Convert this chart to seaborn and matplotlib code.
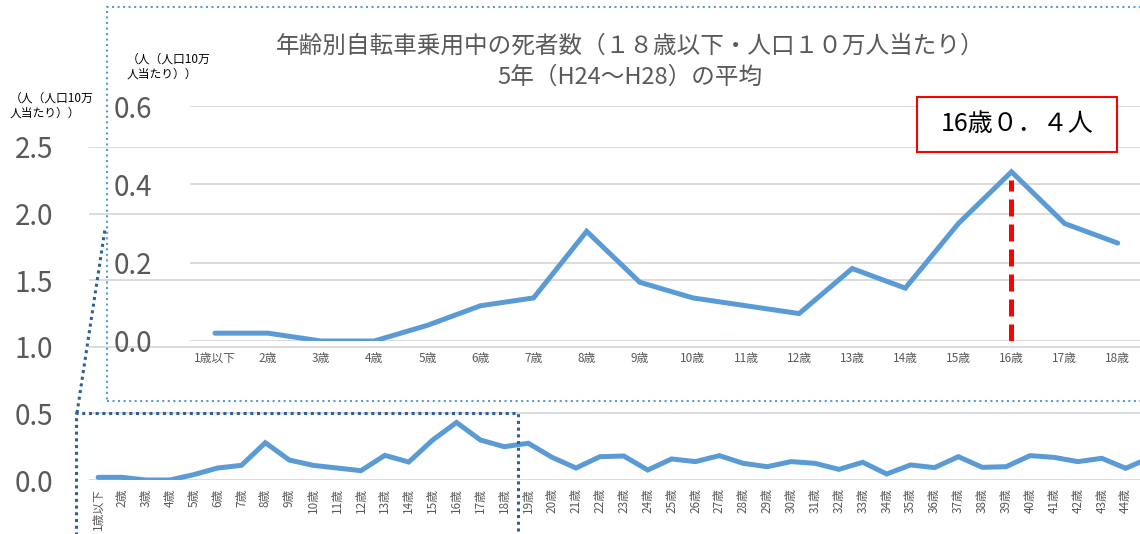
import numpy as np
import pandas as pd
import seaborn as sns
import matplotlib.pyplot as plt
from matplotlib.patches import Rectangle
from matplotlib.lines import Line2D

# data: deaths per 100k population while cycling, 5-year average (H24-H28)
ages = ["1歳以下"] + [f"{i}歳" for i in range(2, 46)]
rate_all = [0.02, 0.02, 0.0, 0.0, 0.04, 0.09, 0.11, 0.28, 0.15, 0.11,
            0.09, 0.07, 0.185, 0.135, 0.30, 0.432, 0.30, 0.25, 0.276, 0.17,
            0.09, 0.175, 0.18, 0.075, 0.158, 0.138, 0.183, 0.125, 0.10, 0.138,
            0.125, 0.08, 0.133, 0.045, 0.113, 0.093, 0.175, 0.095, 0.10, 0.183,
            0.17, 0.138, 0.163, 0.088, 0.165]
n_inset = 18
n_shown = 44  # last category is cut off at the right edge
ytick_bg = [0.0, 0.5, 1.0, 1.5, 2.0, 2.5]
ytick_in = [0.0, 0.2, 0.4, 0.6]
title = "年齢別自転車乗用中の死者数（１８歳以下・人口１０万人当たり）\n5年（H24～H28）の平均"
unit_label = "（人（人口10万\n人当たり））"
callout = "16歳０．４人"

sns.set_style("white")
plt.rcParams['font.family'] = ['Noto Sans CJK JP', 'DejaVu Sans']

BLUE = "#5B9BD5"
GRID = "#D9D9D9"
TXT = "#595959"
DARK = "#2F5F98"
W, H = 1140, 534

def fx(px):
    return px / W

def fy(py):
    return 1 - py / H

df_all = pd.DataFrame({"age": ages, "rate": rate_all})
df_in = df_all.iloc[:n_inset]

fig = plt.figure(figsize=(11.4, 5.34), dpi=100)
fig.patch.set_facecolor("white")

#%% background chart (all ages)
ax_bg = fig.add_axes([fx(89), fy(480), 1 - fx(89), (480 - 147) / H])
sns.lineplot(data=df_all, x="age", y="rate", ax=ax_bg, sort=False,
             color=BLUE, lw=3.6, solid_joinstyle="miter")
ax_bg.set_xlim(-0.38, 43.6)
ax_bg.set_ylim(0, 2.5)
ax_bg.set_yticks(ytick_bg)
ax_bg.set_yticklabels([f"{v:.1f}" for v in ytick_bg])
ax_bg.set_xticks(range(n_shown))
ax_bg.set_xticklabels(ages[:n_shown], rotation=90, va="top", ha="center")
ax_bg.tick_params(axis="y", length=0, labelsize=20, pad=26, labelcolor=TXT)
ax_bg.tick_params(axis="x", length=0, labelsize=8.5, pad=6, labelcolor=TXT)
ax_bg.set_xlabel("")
ax_bg.set_ylabel("")
ax_bg.grid(axis="y", color=GRID, lw=1.3)
ax_bg.set_axisbelow(True)
for s in ax_bg.spines.values():
    s.set_visible(False)
ax_bg.patch.set_alpha(0)

#%% inset chart (18 and under)
ax_in = fig.add_axes([fx(190), fy(341), 1 - fx(190), (341 - 106) / H])
sns.lineplot(data=df_in, x="age", y="rate", ax=ax_in, sort=False,
             color=BLUE, lw=3.6, solid_joinstyle="miter")
ax_in.set_xlim(-0.47, 17.42)
ax_in.set_ylim(0, 0.6)
ax_in.set_yticks(ytick_in)
ax_in.set_yticklabels([f"{v:.1f}" for v in ytick_in])
ax_in.tick_params(axis="y", length=0, labelsize=20, pad=27, labelcolor=TXT)
ax_in.tick_params(axis="x", length=0, labelsize=8.5, pad=8, labelcolor=TXT)
ax_in.set_xlabel("")
ax_in.set_ylabel("")
ax_in.grid(axis="y", color=GRID, lw=1.3)
ax_in.set_axisbelow(True)
for s in ax_in.spines.values():
    s.set_visible(False)
ax_in.patch.set_alpha(0)

# red dashed marker at the peak
peak = int(np.argmax(rate_all[:n_inset]))
ax_in.vlines(peak, 0, rate_all[peak] * 0.95, color="red", lw=3.6,
             linestyles=(0, (3.4, 1.6)), zorder=3)

#%% frames and texts
fig.add_artist(Rectangle((fx(107), fy(401)), 1.2, (401 - 7) / H, fill=False,
                         ec=BLUE, lw=1.5, ls=":", transform=fig.transFigure))
fig.add_artist(Line2D([fx(76), fx(76), fx(518), fx(518)],
                      [fy(540), fy(413), fy(413), fy(540)],
                      color=DARK, lw=2.2, ls=(0, (1, 1.2)), transform=fig.transFigure))
fig.add_artist(Line2D([fx(77), fx(105)], [fy(413), fy(229)],
                      color=DARK, lw=2.2, ls=(0, (1, 1.2)), transform=fig.transFigure))

fig.text(fx(630), fy(62), title, ha="center", va="center", fontsize=17,
         color=TXT, linespacing=1.45, multialignment="center")
fig.text(fx(127), fy(53), unit_label, ha="left", va="top", fontsize=8.5,
         color="black", linespacing=1.2)
fig.text(fx(10), fy(92), unit_label, ha="left", va="top", fontsize=8.5,
         color="black", linespacing=1.2)

fig.add_artist(Rectangle((fx(917), fy(152)), (1117 - 917) / W, (152 - 97) / H,
                         fc="white", ec="red", lw=1.5, transform=fig.transFigure,
                         zorder=4))
fig.text(fx(1017), fy(124), callout, ha="center", va="center", fontsize=18,
         color="black", zorder=5)

fig.savefig("out.png", dpi=100, facecolor="white")
